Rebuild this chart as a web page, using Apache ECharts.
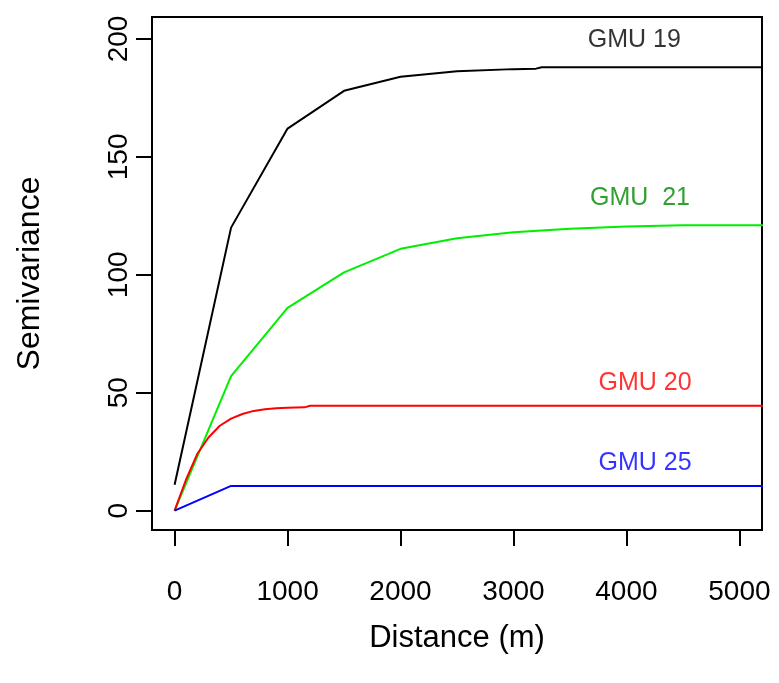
<!DOCTYPE html>
<html>
<head>
<meta charset="utf-8">
<script src="https://cdn.jsdelivr.net/npm/echarts@6/dist/echarts.min.js"></script>
<style>
  html, body { margin: 0; padding: 0; background: #fff; }
  #chart { width: 779px; height: 683px; }
</style>
</head>
<body>
<div id="chart"></div>
<script>
const xTicks = [0, 1000, 2000, 3000, 4000, 5000]
const yTicks = [0, 50, 100, 150, 200]

// semivariogram models, [distance, semivariance]
const gmu19 = [[0, 11], [500, 120], [1000, 162], [1500, 178], [2000, 184], [2500, 186.3],
  [3000, 187.2], [3200, 187.4], [3250, 188], [4000, 188], [5000, 188], [5400, 188]]
const gmu21 = [[0, 0], [500, 57], [1000, 86], [1500, 101], [2000, 111], [2500, 115.5],
  [3000, 118], [3500, 119.5], [4000, 120.5], [4500, 121], [5000, 121], [5400, 121]]
const gmu20 = [[0, 0], [100, 13], [200, 24], [300, 31], [400, 36], [500, 39], [600, 41],
  [700, 42.3], [800, 43], [900, 43.4], [1000, 43.6], [1150, 43.8], [1200, 44.5], [5400, 44.5]]
const gmu25 = [[0, 0], [500, 10.5], [5400, 10.5]]

const labels = [
  { text: 'GMU 19', x: 4070, y: 199.6, color: '#000000' },
  { text: 'GMU  21', x: 4120, y: 132.5, color: '#008800' },
  { text: 'GMU 20', x: 4165, y: 54, color: '#ff0000' },
  { text: 'GMU 25', x: 4165, y: 20, color: '#0000ff' }
]

const chart = echarts.init(document.getElementById('chart'))
const font = 'Liberation Sans, Arial, sans-serif'

function line (data, color) {
  return {
    type: 'line',
    data: data,
    showSymbol: false,
    clip: true,
    lineStyle: { color: color, width: 2 },
    itemStyle: { color: color },
    animation: false
  }
}

const option = {
  animation: false,
  grid: {
    left: 152, top: 17, right: 17, bottom: 153,
    outerBoundsMode: 'none',
    containLabel: false,
    show: true, borderColor: '#000', borderWidth: 2, backgroundColor: '#fff'
  },
  xAxis: {
    type: 'value',
    min: -200,
    max: 5200,
    name: 'Distance (m)',
    nameLocation: 'middle',
    nameGap: 93,
    nameTextStyle: { color: '#000', fontSize: 31, fontFamily: font },
    axisLine: { show: false, onZero: false },
    splitLine: { show: false },
    axisTick: { show: true, inside: false, length: 16, customValues: xTicks, lineStyle: { color: '#000', width: 2 } },
    axisLabel: { customValues: xTicks, formatter: v => String(v), color: '#000', fontSize: 28, fontFamily: font, margin: 48 }
  },
  yAxis: {
    type: 'value',
    min: -8.2,
    max: 209.3,
    name: 'Semivariance',
    nameLocation: 'middle',
    nameGap: 106,
    nameTextStyle: { color: '#000', fontSize: 32, fontFamily: font },
    axisLine: { show: false, onZero: false },
    splitLine: { show: false },
    axisTick: { show: true, inside: false, length: 16, customValues: yTicks, lineStyle: { color: '#000', width: 2 } },
    axisLabel: { customValues: yTicks, formatter: v => String(v), rotate: 90, color: '#000', fontSize: 28, fontFamily: font, margin: 19 }
  },
  series: [
    line(gmu19, '#000000'),
    line(gmu21, '#00ee00'),
    line(gmu20, '#ff0000'),
    line(gmu25, '#0000ff'),
    {
      type: 'scatter',
      symbolSize: 0,
      silent: true,
      data: labels.map(l => ({
        value: [l.x, l.y],
        label: { show: true, position: 'inside', formatter: l.text, color: l.color, fontSize: 25, fontFamily: font }
      }))
    }
  ]
}

chart.setOption(option)
</script>
</body>
</html>
